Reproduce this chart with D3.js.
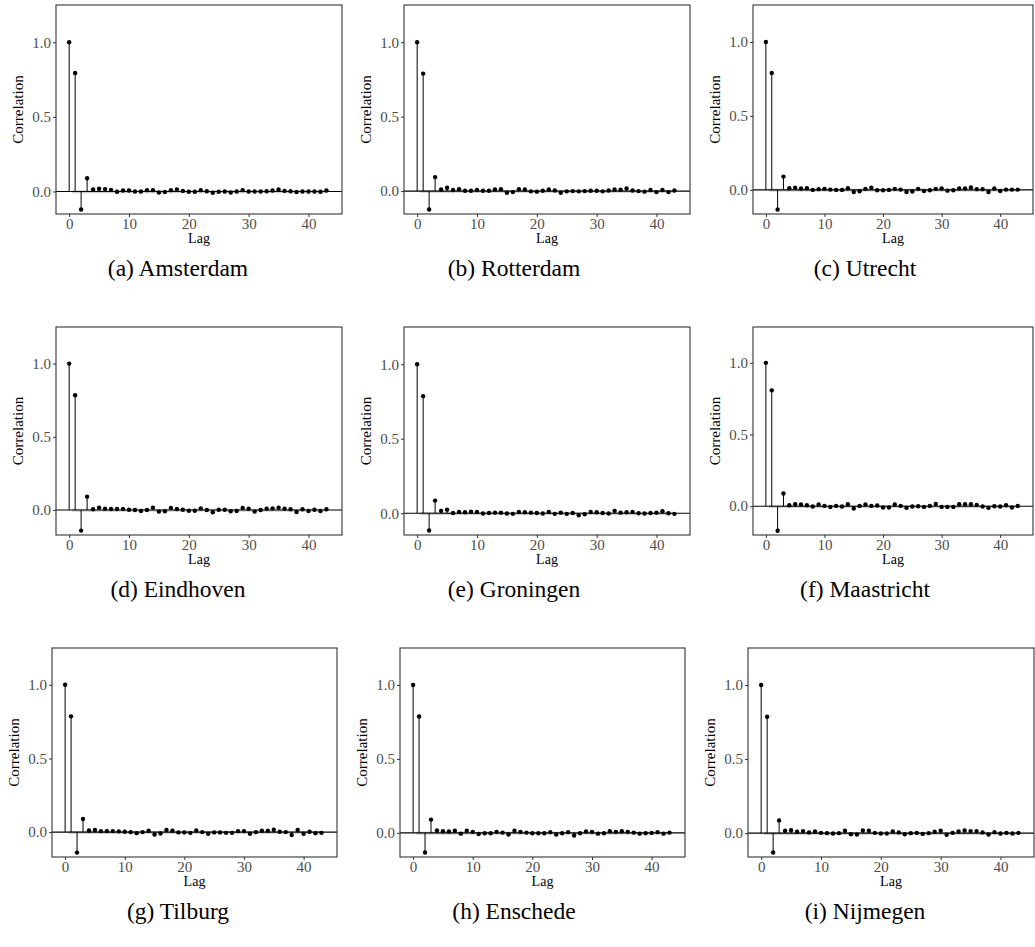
<!DOCTYPE html>
<html>
<head>
<meta charset="utf-8">
<script src="https://cdn.jsdelivr.net/npm/d3@7/dist/d3.min.js"></script>
<style>
body{margin:0;background:#fff;}
text{font-family:"Liberation Serif", "Times New Roman", serif;}
</style>
</head>
<body>
<div id="chart"></div>
<script>
// lags on the x axis
let lags = [0,1,2,3,4,5,6,7,8,9,10,11,12,13,14,15,16,17,18,19,20,21,
            22,23,24,25,26,27,28,29,30,31,32,33,34,35,36,37,38,39,40,41,42,43];

// autocorrelation per city
let amsterdam = [1.0,0.794,-0.121,0.089,0.013,0.018,0.016,0.011,-0.002,0.007,0.007,0.0,0.0,0.009,0.009,-0.007,-0.004,0.009,0.013,0.004,-0.002,-0.002,
                 0.009,0.002,-0.009,-0.002,0.0,-0.007,0.0,0.009,0.0,0.0,0.0,0.002,0.007,0.013,0.004,0.002,-0.004,0.0,0.0,0.0,-0.002,0.007];
let rotterdam = [1.0,0.789,-0.124,0.094,0.011,0.022,0.007,0.013,0.002,0.002,0.007,0.002,0.002,0.011,0.013,-0.011,-0.007,0.013,0.011,-0.002,-0.004,0.002,
                 0.011,0.004,-0.011,-0.002,0.0,-0.002,0.0,0.002,0.002,-0.002,0.004,0.011,0.009,0.018,0.004,0.0,-0.004,0.007,-0.007,0.007,-0.007,0.004];
let utrecht = [1.0,0.79,-0.133,0.09,0.011,0.014,0.009,0.011,0.0,0.005,0.007,0.002,0.0,0.0,0.011,-0.014,-0.009,0.007,0.014,-0.002,-0.002,0.0,
               0.007,0.002,-0.014,-0.011,0.007,-0.007,-0.002,0.007,0.009,-0.005,-0.002,0.009,0.009,0.016,0.005,0.005,-0.014,0.009,-0.007,0.002,0.002,0.002];
let eindhoven = [1.0,0.784,-0.141,0.091,0.005,0.016,0.009,0.007,0.007,0.007,0.002,0.0,-0.007,0.0,0.016,-0.011,-0.009,0.014,0.007,0.002,-0.005,-0.005,
                 0.011,0.0,-0.016,0.002,0.002,-0.009,-0.007,0.014,0.009,-0.011,0.0,0.009,0.011,0.016,0.009,0.005,-0.014,0.005,-0.007,0.002,-0.007,0.005];
let groningen = [1.0,0.786,-0.116,0.085,0.016,0.024,0.002,0.009,0.007,0.011,0.009,-0.002,0.002,0.004,0.004,-0.002,-0.004,0.009,0.007,0.004,0.002,-0.002,
                 0.009,-0.004,0.004,-0.004,0.002,-0.013,-0.007,0.009,0.007,0.002,-0.002,0.016,0.004,0.007,0.009,0.0,-0.002,0.002,0.004,0.013,0.0,-0.004];
let maastricht = [1.0,0.808,-0.171,0.089,0.007,0.014,0.012,0.007,-0.002,0.012,0.002,-0.005,0.002,-0.002,0.014,-0.016,0.002,0.012,0.002,0.005,-0.009,-0.009,
                  0.012,0.002,-0.012,-0.002,0.0,-0.005,0.002,0.016,-0.005,-0.005,-0.005,0.014,0.014,0.014,0.009,-0.002,-0.012,0.0,-0.002,0.007,-0.009,0.002];
let tilburg = [1.0,0.786,-0.139,0.089,0.011,0.014,0.007,0.007,0.007,0.005,0.002,0.0,-0.007,0.0,0.009,-0.016,-0.009,0.014,0.009,-0.002,-0.002,-0.005,
               0.011,0.0,-0.011,-0.002,-0.002,-0.005,-0.005,0.007,0.007,-0.011,0.0,0.009,0.009,0.016,0.002,0.0,-0.02,0.014,-0.011,0.002,-0.007,-0.005];
let enschede = [1.0,0.787,-0.133,0.09,0.016,0.011,0.009,0.014,-0.005,0.014,0.007,-0.007,-0.002,-0.002,0.007,0.002,-0.011,0.014,0.007,0.002,-0.002,-0.002,
                -0.002,0.005,-0.011,-0.002,0.005,-0.018,-0.002,0.009,0.007,-0.005,-0.002,0.011,0.007,0.011,0.007,0.002,-0.005,-0.002,0.0,0.005,-0.005,0.002];
let nijmegen = [1.0,0.786,-0.131,0.086,0.016,0.02,0.009,0.014,0.005,0.011,0.002,0.0,-0.002,0.0,0.016,-0.007,-0.009,0.018,0.016,0.002,-0.002,-0.002,
                0.011,0.005,-0.007,0.0,0.002,-0.005,0.0,0.009,0.016,-0.011,0.002,0.011,0.018,0.014,0.014,0.005,-0.009,0.007,-0.002,0.002,-0.002,0.002];

let cities = ["Amsterdam","Rotterdam","Utrecht","Eindhoven","Groningen","Maastricht","Tilburg","Enschede","Nijmegen"];
let letters = ["a","b","c","d","e","f","g","h","i"];
let series = [amsterdam, rotterdam, utrecht, eindhoven, groningen, maastricht, tilburg, enschede, nijmegen];

let xTicks = [0,10,20,30,40];
let yTicks = [0.0,0.5,1.0];

// panel frames (pixels), one entry per row / column
let rowTop = [5, 327, 648];
let rowBottom = [214, 535, 857];
let colLeft = [[56,404,753],[56,404,753],[52,400,748]];
let colRight = [[342,690,1033],[342,690,1033],[337,685,1034]];
let captionX = [178, 514, 865];

let svg = d3.select("#chart").append("svg")
    .attr("width", 1035)
    .attr("height", 947)
    .style("background", "#fff");

//draws one acf panel
function drawPanel(values, box, caption, capX){
    let x = d3.scaleLinear().domain([-2.2, 45.6]).range([box.l, box.r]);
    let y = d3.scaleLinear().domain([d3.min(values) - 0.03, 1.25]).range([box.b, box.t]);
    let g = svg.append("g");

    //confidence band around zero
    g.append("rect")
        .attr("x", x(0.5))
        .attr("width", x(43) - x(0.5))
        .attr("y", y(0.008))
        .attr("height", y(-0.012) - y(0.008))
        .attr("fill", "#cfcfcf");

    //zero line
    g.append("line")
        .attr("x1", box.l).attr("x2", box.r)
        .attr("y1", y(0)).attr("y2", y(0))
        .attr("stroke", "#000").attr("stroke-width", 1.1);

    //stems
    g.selectAll(".stem").data(values).join("line")
        .attr("class", "stem")
        .attr("x1", (d, i) => x(lags[i]))
        .attr("x2", (d, i) => x(lags[i]))
        .attr("y1", y(0))
        .attr("y2", d => y(d))
        .attr("stroke", "#000")
        .attr("stroke-width", 1);

    //dots
    g.selectAll(".dot").data(values).join("circle")
        .attr("class", "dot")
        .attr("cx", (d, i) => x(lags[i]))
        .attr("cy", d => y(d))
        .attr("r", 2.2)
        .attr("fill", "#000");

    //frame
    g.append("rect")
        .attr("x", box.l).attr("y", box.t)
        .attr("width", box.r - box.l).attr("height", box.b - box.t)
        .attr("fill", "none")
        .attr("stroke", "#333")
        .attr("stroke-width", 1.1);

    //axes
    let xAxis = g.append("g")
        .attr("transform", "translate(0," + box.b + ")")
        .call(d3.axisBottom(x).tickValues(xTicks).tickSize(3).tickPadding(1).tickFormat(d3.format("d")));
    let yAxis = g.append("g")
        .attr("transform", "translate(" + box.l + ",0)")
        .call(d3.axisLeft(y).tickValues(yTicks).tickSize(3).tickPadding(2).tickFormat(d3.format(".1f")));
    [xAxis, yAxis].forEach(a => {
        a.select(".domain").remove();
        a.selectAll("line").attr("stroke", "#333");
        a.selectAll("text")
            .attr("fill", "#4d4d4d")
            .style("font-size", "15px")
            .style("font-family", "Liberation Serif, serif");
    });

    //axis titles
    g.append("text")
        .attr("x", (box.l + box.r) / 2)
        .attr("y", box.b + 29)
        .attr("text-anchor", "middle")
        .style("font-size", "14px")
        .text("Lag");
    g.append("text")
        .attr("transform", "translate(" + (box.l - 33) + "," + ((box.t + box.b) / 2) + ") rotate(-90)")
        .attr("text-anchor", "middle")
        .style("font-size", "15px")
        .text("Correlation");

    //caption under the sub figure
    svg.append("text")
        .attr("x", capX)
        .attr("y", box.b + 62)
        .attr("text-anchor", "middle")
        .style("font-size", "23.5px")
        .text(caption);
}

for(let i = 0; i < series.length; i++){
    let r = Math.floor(i / 3);
    let c = i % 3;
    let box = {l: colLeft[r][c], r: colRight[r][c], t: rowTop[r], b: rowBottom[r]};
    drawPanel(series[i], box, "(" + letters[i] + ") " + cities[i], captionX[c]);
}
</script>
</body>
</html>
